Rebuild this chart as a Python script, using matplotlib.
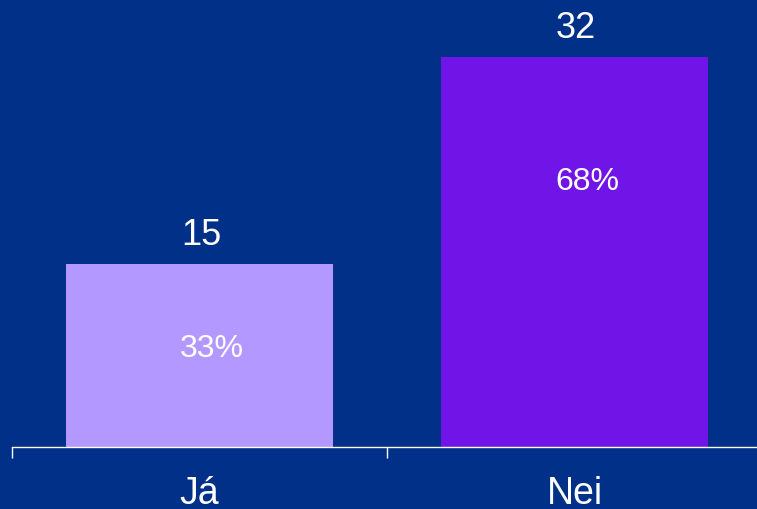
import matplotlib
matplotlib.use('Agg')
import matplotlib.pyplot as plt

categories = ['Já', 'Nei']
counts = [15, 32]
shares = ['33%', '68%']

bg = '#003087'
bar_colors = ['#b399ff', '#7014e8']

plt.rcParams['font.family'] = ['Liberation Sans', 'DejaVu Sans']

fig = plt.figure(figsize=(7.57, 5.09), dpi=100, facecolor=bg)
# axes runs a little past the right edge of the figure, as in the original
ax = fig.add_axes([12 / 757, 62 / 509, 750 / 757, 447 / 509])
ax.set_facecolor(bg)

x = range(len(categories))
bars = ax.bar(x, counts, width=0.713, color=bar_colors)

ax.set_xlim(-0.5, 1.5)
ax.set_ylim(0, 36.7)

# count labels above the bars
for b, c in zip(bars, counts):
    ax.annotate(str(c), (b.get_x() + b.get_width() / 2, c),
                xytext=(1, 21), textcoords='offset points',
                ha='center', va='center', color='white', fontsize=26)

# share labels inside the bars, sitting a bit right of centre
inner_offsets = [-61, -90]
for b, c, s, off in zip(bars, counts, shares, inner_offsets):
    ax.annotate(s, (b.get_x() + b.get_width() / 2, c),
                xytext=(9, off), textcoords='offset points',
                ha='center', va='center', color='white', fontsize=23)

for side in ['left', 'right', 'top']:
    ax.spines[side].set_visible(False)
ax.spines['bottom'].set_color('white')
ax.spines['bottom'].set_linewidth(1)
ax.set_yticks([])

ax.set_xticks([-0.5, 0.5, 1.5])
ax.set_xticklabels([])
ax.tick_params(axis='x', colors='white', length=8, width=1, direction='out')
for i, cat in enumerate(categories):
    ax.text(i, -3.85, cat, ha='center', va='center', color='white', fontsize=27)

fig.savefig('out.png', dpi=100, facecolor=bg)
